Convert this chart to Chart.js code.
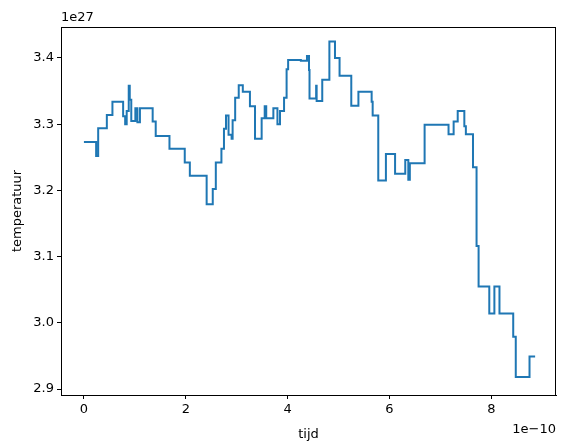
<!DOCTYPE html>
<html><head><meta charset="utf-8">
<script src="https://cdn.jsdelivr.net/npm/chart.js@4/dist/chart.umd.min.js"></script>
<style>html,body{margin:0;padding:0;background:#fff}#w{width:567px;height:448px}</style>
</head><body><div id="w"><canvas id="c"></canvas></div>
<script>
const tijd = [0,0.24,0.28,0.45,0.56,0.77,0.81,0.84,0.88,0.90,0.93,1.01,1.05,1.10,1.35,1.41,1.68,1.98,2.08,2.41,2.53,2.59,2.70,2.75,2.79,2.84,2.90,2.92,2.97,3.04,3.12,3.26,3.36,3.49,3.55,3.58,3.72,3.80,3.85,3.93,3.98,4.01,4.26,4.38,4.42,4.43,4.56,4.57,4.68,4.82,4.93,5.02,5.25,5.39,5.65,5.67,5.78,5.93,6.11,6.31,6.37,6.40,6.69,7.16,7.26,7.34,7.47,7.50,7.64,7.71,7.75,7.96,8.06,8.16,8.43,8.48,8.75,8.86];
const temperatuur = [3.273,3.252,3.294,3.314,3.334,3.312,3.300,3.320,3.358,3.337,3.305,3.324,3.303,3.324,3.304,3.282,3.263,3.242,3.222,3.179,3.202,3.242,3.263,3.293,3.313,3.284,3.278,3.306,3.340,3.359,3.349,3.327,3.278,3.309,3.327,3.309,3.324,3.300,3.320,3.340,3.383,3.397,3.396,3.403,3.382,3.339,3.358,3.335,3.367,3.425,3.400,3.373,3.328,3.349,3.334,3.313,3.215,3.255,3.225,3.246,3.216,3.241,3.299,3.285,3.304,3.320,3.297,3.285,3.235,3.116,3.055,3.014,3.055,3.014,2.979,2.918,2.949,2.949];
const xTicks = [0,2,4,6,8];
const yTicks = [2.9,3.0,3.1,3.2,3.3,3.4];
const font = {family:'DejaVu Sans', size:13};
const pts = tijd.map((t,i)=>({x:t,y:temperatuur[i]}));
const extras = {id:'extras', afterDraw(ch){
  const c=ch.ctx, a=ch.chartArea;
  c.save(); c.strokeStyle='#000'; c.lineWidth=1;
  c.strokeRect(a.left+0.5,a.top+0.5,a.right-a.left-1,a.bottom-a.top);
  c.fillStyle='#000'; c.font='13px DejaVu Sans';
  c.textAlign='left'; c.textBaseline='bottom'; c.fillText('1e27',a.left,a.top-3);
  c.textAlign='right'; c.textBaseline='top'; c.fillText('1e\u221210',a.right,a.bottom+28);
  c.restore();
}};
new Chart(document.getElementById('c'),{
  type:'line',
  data:{datasets:[{data:pts,stepped:'before',borderColor:'#1f77b4',borderWidth:2,pointRadius:0,fill:false}]},
  options:{animation:false,responsive:true,maintainAspectRatio:false,
    layout:{padding:{top:27,right:11,left:6,bottom:6}},
    plugins:{legend:{display:false},tooltip:{enabled:false}},
    scales:{
      x:{type:'linear',min:-0.45,max:9.27,
        afterBuildTicks(s){s.ticks=xTicks.map(v=>({value:v}));},
        afterFit(s){s.height=47;},
        grid:{drawOnChartArea:false,tickLength:4,color:'#000'},border:{color:'#000'},
        ticks:{color:'#000',font,maxRotation:0,padding:3,callback:v=>String(v)},
        title:{display:true,text:'tijd',color:'#000',font,padding:{top:2,bottom:0}}},
      y:{type:'linear',min:2.891,max:3.4468,
        afterBuildTicks(s){s.ticks=yTicks.map(v=>({value:v}));},
        afterFit(s){s.width=55;},
        grid:{drawOnChartArea:false,tickLength:4,color:'#000'},border:{color:'#000'},
        ticks:{color:'#000',font,padding:3,callback:v=>v.toFixed(1)},
        title:{display:true,text:'temperatuur',color:'#000',font,padding:{bottom:2}}}
    }},
  plugins:[extras]
});
</script></body></html>
